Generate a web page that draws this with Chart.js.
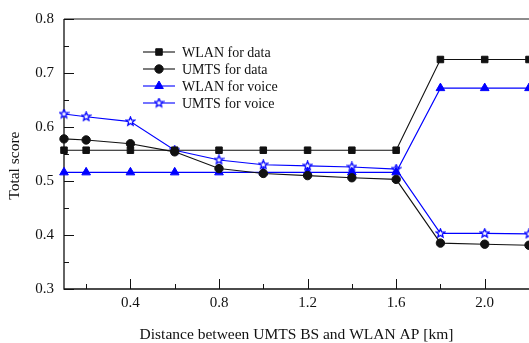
<!DOCTYPE html>
<html><head><meta charset="utf-8">
<script src="https://cdn.jsdelivr.net/npm/chart.js@4"></script>
<style>html,body{margin:0;padding:0;background:#fff}canvas{display:block}</style>
</head><body>
<canvas id="c" width="529" height="343"></canvas>
<script>
const distances = [0.1, 0.2, 0.4, 0.6, 0.8, 1.0, 1.2, 1.4, 1.6, 1.8, 2.0, 2.2];
const wlanData  = [0.557, 0.557, 0.557, 0.557, 0.557, 0.557, 0.557, 0.557, 0.557, 0.725, 0.725, 0.725];
const umtsData  = [0.578, 0.576, 0.569, 0.554, 0.523, 0.514, 0.510, 0.506, 0.503, 0.385, 0.383, 0.381];
const wlanVoice = [0.516, 0.516, 0.516, 0.516, 0.516, 0.516, 0.516, 0.516, 0.516, 0.672, 0.672, 0.672];
const umtsVoice = [0.624, 0.619, 0.610, 0.557, 0.539, 0.530, 0.528, 0.526, 0.522, 0.403, 0.403, 0.402];
const seriesLabels = ['WLAN for data', 'UMTS for data', 'WLAN for voice', 'UMTS for voice'];
const xTickValues = [0.4, 0.8, 1.2, 1.6, 2.0];
const xMinorValues = [0.2, 0.6, 1.0, 1.4, 1.8, 2.2];
const yTickValues = [0.3, 0.4, 0.5, 0.6, 0.7, 0.8];
const yMinorValues = [0.35, 0.45, 0.55, 0.65, 0.75];

const FONT = "'Liberation Serif', 'Times New Roman', serif";
const BLACK = '#111';
const BLUE = '#0000ff';

function makeStar(size, color) {
  const c = document.createElement('canvas');
  c.width = size; c.height = size;
  const g = c.getContext('2d');
  const cx = size / 2, cy = size / 2, R = size / 2 - 1, r = R * 0.45;
  g.beginPath();
  for (let i = 0; i < 10; i++) {
    const a = -Math.PI / 2 + i * Math.PI / 5;
    const rr = i % 2 === 0 ? R : r;
    const px = cx + rr * Math.cos(a), py = cy + rr * Math.sin(a);
    if (i === 0) g.moveTo(px, py); else g.lineTo(px, py);
  }
  g.closePath();
  g.fillStyle = '#fff';
  g.fill();
  g.strokeStyle = color;
  g.lineWidth = 1.3;
  g.stroke();
  return c;
}
const starImg = makeStar(11, BLUE);

function toPts(vals) { return distances.map((d, i) => ({ x: d, y: vals[i] })); }

const datasets = [
  { label: seriesLabels[0], data: toPts(wlanData), borderColor: BLACK, backgroundColor: BLACK, pointStyle: 'rect', pointRadius: 4.6 },
  { label: seriesLabels[1], data: toPts(umtsData), borderColor: BLACK, backgroundColor: BLACK, pointStyle: 'circle', pointRadius: 4.2 },
  { label: seriesLabels[2], data: toPts(wlanVoice), borderColor: BLUE, backgroundColor: BLUE, pointStyle: 'triangle', pointRadius: 5 },
  { label: seriesLabels[3], data: toPts(umtsVoice), borderColor: BLUE, backgroundColor: '#fff', pointStyle: starImg, pointRadius: 5 }
].map(d => Object.assign(d, { borderWidth: 1.1, pointBorderWidth: 1, tension: 0, clip: false, fill: false }));

const framePlugin = {
  id: 'frame',
  beforeDatasetsDraw(chart) {
    const { ctx, chartArea: a, scales: { x, y } } = chart;
    ctx.save();
    ctx.strokeStyle = '#666';
    ctx.lineWidth = 1.5;
    ctx.beginPath(); ctx.moveTo(a.left, a.top); ctx.lineTo(a.right, a.top); ctx.stroke();
    ctx.strokeStyle = '#111';
    ctx.lineWidth = 1.3;
    ctx.beginPath();
    ctx.moveTo(a.left, a.top); ctx.lineTo(a.left, a.bottom); ctx.lineTo(a.right, a.bottom);
    ctx.stroke();
    ctx.lineWidth = 1;
    ctx.beginPath();
    yTickValues.forEach(v => { const py = Math.round(y.getPixelForValue(v)) + 0.5; ctx.moveTo(a.left, py); ctx.lineTo(a.left + 10, py); });
    yMinorValues.forEach(v => { const py = Math.round(y.getPixelForValue(v)) + 0.5; ctx.moveTo(a.left, py); ctx.lineTo(a.left + 5, py); });
    xTickValues.forEach(v => { const px = Math.round(x.getPixelForValue(v)) + 0.5; ctx.moveTo(px, a.bottom); ctx.lineTo(px, a.bottom - 10); });
    xMinorValues.forEach(v => { const px = Math.round(x.getPixelForValue(v)) + 0.5; ctx.moveTo(px, a.bottom); ctx.lineTo(px, a.bottom - 5); });
    ctx.stroke();
    ctx.restore();
  }
};

const legendPlugin = {
  id: 'innerLegend',
  afterDatasetsDraw(chart) {
    const { ctx } = chart;
    const x0 = 143, x1 = 175, xm = 159, xt = 182;
    const rows = [52, 69, 86, 103];
    ctx.save();
    chart.data.datasets.forEach((ds, i) => {
      const yy = rows[i];
      ctx.strokeStyle = ds.borderColor;
      ctx.lineWidth = ds.borderWidth;
      ctx.beginPath(); ctx.moveTo(x0, yy); ctx.lineTo(x1, yy); ctx.stroke();
      ctx.fillStyle = ds.backgroundColor;
      ctx.lineWidth = ds.pointBorderWidth;
      Chart.helpers.drawPoint(ctx, { pointStyle: ds.pointStyle, radius: ds.pointRadius, borderWidth: ds.pointBorderWidth, rotation: 0 }, xm, yy);
      ctx.fillStyle = '#111';
      ctx.font = "14px " + FONT;
      ctx.textBaseline = 'middle';
      ctx.textAlign = 'left';
      ctx.fillText(ds.label, xt, yy + 1);
    });
    ctx.restore();
  }
};

new Chart(document.getElementById('c'), {
  type: 'line',
  data: { datasets },
  plugins: [framePlugin, legendPlugin],
  options: {
    responsive: false,
    animation: false,
    layout: { autoPadding: false, padding: { top: 16, right: 0, left: 0, bottom: 0 } },
    plugins: { legend: { display: false }, tooltip: { enabled: false } },
    scales: {
      x: {
        type: 'linear', min: 0.1, max: 2.2,
        afterBuildTicks: s => { s.ticks = xTickValues.map(v => ({ value: v })); },
        afterFit: s => { s.height = 54; },
        grid: { display: false, drawTicks: false }, border: { display: false },
        ticks: { color: '#111', padding: 5, font: { family: FONT, size: 15 }, callback: v => Number(v).toFixed(1), maxRotation: 0, autoSkip: false },
        title: { display: true, text: 'Distance between UMTS BS and WLAN AP [km]', color: '#111', font: { family: FONT, size: 15.5 }, padding: { top: 0, bottom: -1 } }
      },
      y: {
        type: 'linear', min: 0.3, max: 0.8,
        afterBuildTicks: s => { s.ticks = yTickValues.map(v => ({ value: v })); },
        afterFit: s => { s.width = 64; },
        grid: { display: false, drawTicks: false }, border: { display: false },
        ticks: { color: '#111', padding: 10, font: { family: FONT, size: 15 }, callback: v => Number(v).toFixed(1), autoSkip: false },
        title: { display: true, text: 'Total score      ', color: '#111', font: { family: FONT, size: 15.5 }, padding: { top: 6, bottom: 0 } }
      }
    }
  }
});
</script>
</body></html>
